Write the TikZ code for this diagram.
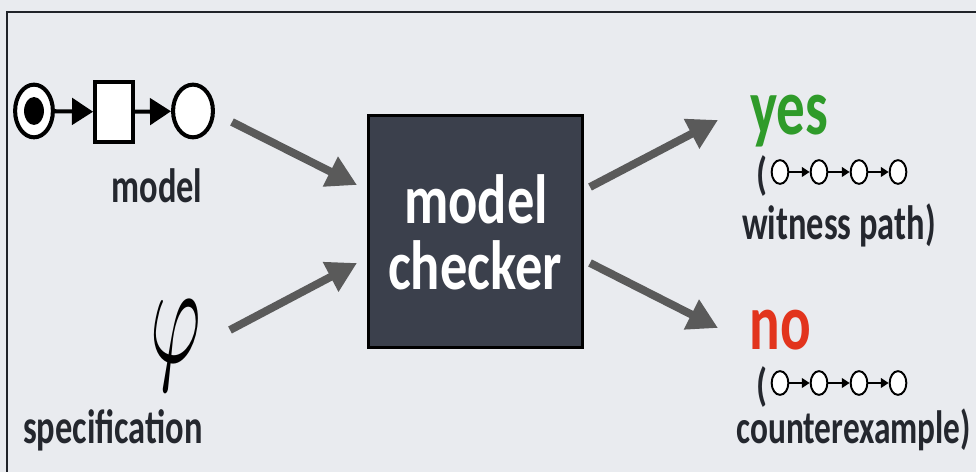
\documentclass[tikz,border=0pt]{standalone}
\usepackage{fontspec}
\setmainfont{Carlito}
\usetikzlibrary{arrows.meta,shapes.geometric}
\definecolor{bg}{HTML}{E9EBEF}
\definecolor{ink}{HTML}{24272E}
\definecolor{boxfill}{HTML}{3B404C}
\definecolor{arrowgrey}{HTML}{5A5A5A}
\definecolor{yesgreen}{HTML}{2F9B2A}
\definecolor{nored}{HTML}{E2341D}
\begin{document}
\begin{tikzpicture}[x=0.02cm,y=-0.02cm,
  place/.style={draw=black,fill=white,ellipse,line width=2.3pt,inner sep=0pt,minimum width=21.5pt,minimum height=30pt},
  trans/.style={draw=black,fill=white,rectangle,line width=2.3pt,inner sep=0pt,minimum width=21.5pt,minimum height=34pt},
  pnarrow/.style={line width=2.3pt,-{Triangle[length=12pt,width=15pt]}},
  bigarrow/.style={draw=arrowgrey,line width=4.5pt,-{Triangle[length=17pt,width=18pt]}},
  small/.style={draw=black,fill=white,ellipse,line width=1.1pt,inner sep=0pt,minimum width=9.5pt,minimum height=13.5pt},
  smallarrow/.style={line width=1.2pt,-{Triangle[length=4.5pt,width=5.5pt]}},
  lbl/.style={font=\bfseries\fontsize{19.6pt}{22pt}\selectfont,text=ink,yscale=1.4,inner sep=0pt,anchor=base},
  big/.style={font=\bfseries\fontsize{31pt}{34pt}\selectfont,text=white,yscale=1.28,inner sep=0pt,anchor=base},
  answer/.style={font=\bfseries\fontsize{32.5pt}{34pt}\selectfont,yscale=1.4,inner sep=0pt,anchor=base},
  paren/.style={font=\bfseries\fontsize{20pt}{22pt}\selectfont,text=ink,yscale=1.3,inner sep=0pt}
]
\useasboundingbox (0,0) rectangle (976,472);
\fill[bg] (0,0) rectangle (976,472);
\draw[line width=1.2pt,color=ink!90!black] (7,472) -- (7,12) -- (976,12);

% Petri net model
\node[place] (p1) at (34,111) {};
\node[ellipse,fill=black,inner sep=0pt,minimum width=11.3pt,minimum height=15.9pt] (tok) at (34,111) {};
\node[trans] (t1) at (114,112) {};
\node[place,minimum width=22.7pt] (p2) at (193,111) {};
\draw[pnarrow] (p1) -- (t1);
\draw[pnarrow] (t1) -- (p2);
\node[lbl] (model) at (157,203) {model};

% specification
\node[inner sep=0pt,xscale=4.4,yscale=8.2,text=black] (phi) at (176,345) {$\varphi$};
\node[lbl] (spec) at (113,443) {specification};

% model checker
\node[draw=black,fill=boxfill,line width=1.7pt,minimum width=121.9pt,minimum height=132pt,inner sep=0pt] (mc) at (475.5,231.5) {};
\node[big] (mc1) at (476,224) {model};
\node[big] (mc2) at (475,290) {checker};

% big arrows
\coordinate (a1s) at (232,122);
\coordinate (a1e) at (357,185);
\coordinate (a2s) at (230,330);
\coordinate (a2e) at (357,263);
\coordinate (a3s) at (590,187);
\coordinate (a3e) at (718,120);
\coordinate (a4s) at (590,263);
\coordinate (a4e) at (718,328);
\draw[bigarrow] (a1s) -- (a1e);
\draw[bigarrow] (a2s) -- (a2e);
\draw[bigarrow] (a3s) -- (a3e);
\draw[bigarrow] (a4s) -- (a4e);

% yes branch
\node[answer,text=yesgreen] (yes) at (789,135) {yes};
\node[paren] (py) at (762,176) {(};
\node[small] (y1) at (780,172) {};
\node[small] (y2) at (819,172) {};
\node[small] (y3) at (859,172) {};
\node[small] (y4) at (898,172) {};
\draw[smallarrow] (y1) -- (y2);
\draw[smallarrow] (y2) -- (y3);
\draw[smallarrow] (y3) -- (y4);
\node[lbl] (wit) at (839,240) {witness path)};

% no branch
\node[answer,text=nored] (no) at (780,350) {no};
\node[paren] (pn) at (762,387) {(};
\node[small] (n1) at (780,383) {};
\node[small] (n2) at (819,383) {};
\node[small] (n3) at (859,383) {};
\node[small] (n4) at (898,383) {};
\draw[smallarrow] (n1) -- (n2);
\draw[smallarrow] (n2) -- (n3);
\draw[smallarrow] (n3) -- (n4);
\node[lbl,anchor=base west,font=\bfseries\fontsize{19pt}{22pt}\selectfont] (cex) at (736,443) {counterexample)};
\end{tikzpicture}
\end{document}
